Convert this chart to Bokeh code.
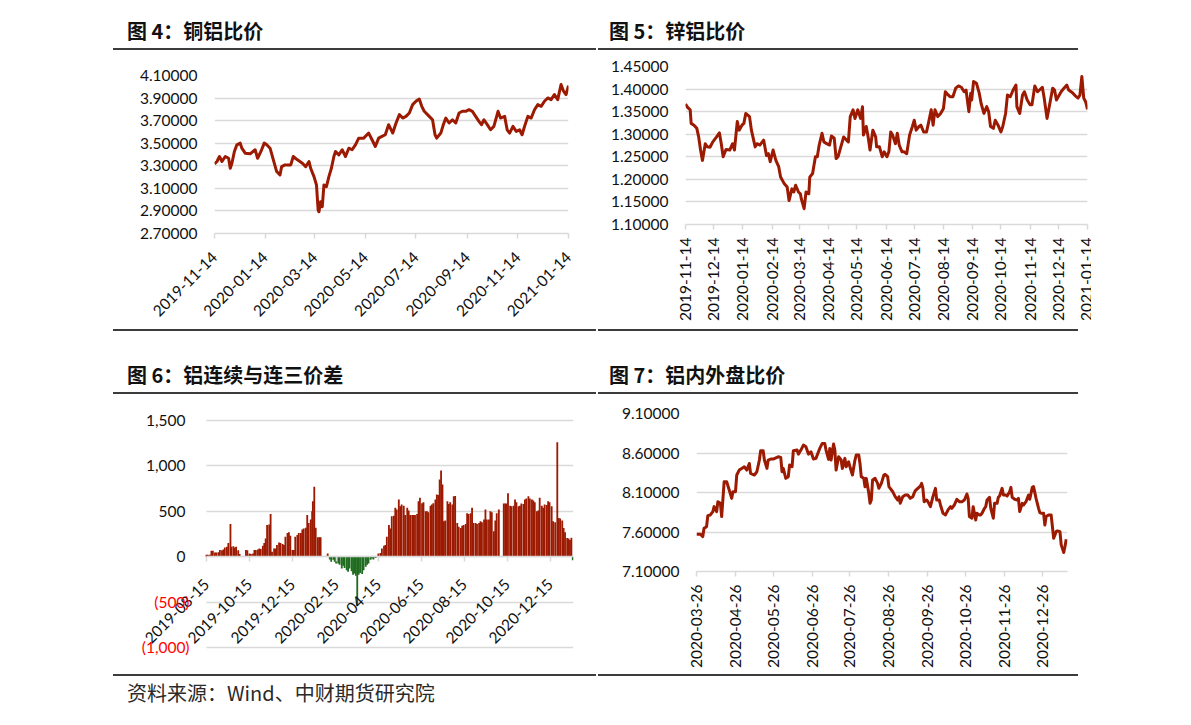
import math
import pandas as pd
from bokeh.plotting import figure
from bokeh.models import (Range1d, FixedTicker, DatetimeTickFormatter, NumeralTickFormatter,
                          LinearAxis, Div)
from bokeh.layouts import column, row
from bokeh.embed import file_html
from bokeh.resources import INLINE

# ---------------- data ----------------
# 图4 铜铝比价 (days since 2019-11-14)
cu_al_start = "2019-11-14"
cu_al_day = [0, 3, 6, 9, 13, 17, 19, 21, 24, 27,
             31, 33, 37, 43, 49, 52, 56, 60, 63, 67,
             71, 75, 79, 81, 85, 92, 95, 100, 106, 110,
             114, 116, 120, 123, 125, 126, 128, 130, 132, 135,
             138, 141, 144, 146, 150, 154, 158, 162, 166, 170,
             174, 180, 186, 190, 194, 198, 202, 206, 210, 215,
             219, 223, 227, 231, 235, 239, 243, 247, 250, 253,
             259, 263, 266, 268, 273, 276, 279, 283, 287, 291,
             295, 299, 303, 307, 311, 315, 319, 322, 325, 329,
             333, 337, 342, 345, 350, 353, 356, 360, 364, 368,
             371, 374, 378, 382, 386, 390, 394, 398, 402, 406,
             410, 414, 418, 421, 424, 427]
cu_al_ratio = [3.317, 3.338, 3.382, 3.338, 3.382, 3.367, 3.278, 3.323, 3.427, 3.486,
               3.501, 3.456, 3.412, 3.406, 3.442, 3.367, 3.427, 3.501, 3.486, 3.456,
               3.353, 3.249, 3.219, 3.293, 3.308, 3.308, 3.382, 3.353, 3.323, 3.293,
               3.338, 3.278, 3.204, 3.130, 2.908, 2.893, 2.982, 2.937, 3.130, 3.115,
               3.204, 3.278, 3.382, 3.427, 3.397, 3.442, 3.382, 3.456, 3.442, 3.486,
               3.545, 3.545, 3.590, 3.531, 3.471, 3.545, 3.560, 3.575, 3.664, 3.590,
               3.679, 3.753, 3.723, 3.738, 3.768, 3.842, 3.872, 3.892, 3.827, 3.783,
               3.738, 3.708, 3.575, 3.545, 3.590, 3.664, 3.723, 3.679, 3.708, 3.679,
               3.768, 3.783, 3.783, 3.797, 3.783, 3.738, 3.694, 3.664, 3.708, 3.664,
               3.619, 3.649, 3.783, 3.723, 3.738, 3.619, 3.590, 3.649, 3.605, 3.619,
               3.575, 3.649, 3.738, 3.723, 3.797, 3.842, 3.827, 3.872, 3.901, 3.886,
               3.931, 3.886, 4.020, 3.961, 3.931, 4.011]
cu_xticks = ["2019-11-14", "2020-01-14", "2020-03-14", "2020-05-14", "2020-07-14",
             "2020-09-14", "2020-11-14", "2021-01-14"]
cu_yticks = [2.7, 2.9, 3.1, 3.3, 3.5, 3.7, 3.9, 4.1]

# 图5 锌铝比价 (days since 2019-11-14)
zn_al_start = "2019-11-14"
zn_al_day = [0, 2, 5, 6, 9, 12, 14, 16, 18, 21,
             23, 26, 29, 33, 36, 38, 40, 43, 47, 50,
             52, 55, 57, 60, 62, 64, 68, 70, 74, 76,
             79, 83, 86, 88, 90, 93, 96, 99, 101, 105,
             108, 110, 113, 115, 117, 120, 122, 123, 126, 128,
             131, 132, 135, 138, 140, 142, 145, 147, 150, 153,
             155, 158, 160, 162, 165, 168, 171, 173, 175, 178,
             180, 183, 186, 188, 189, 192, 194, 196, 199, 202,
             203, 206, 209, 211, 214, 216, 218, 220, 223, 225,
             227, 230, 232, 235, 238, 241, 243, 245, 248, 250,
             253, 256, 258, 261, 263, 265, 268, 271, 274, 276,
             279, 281, 284, 287, 290, 293, 296, 298, 301, 303,
             304, 306, 309, 312, 314, 317, 320, 322, 324, 327,
             329, 332, 335, 337, 340, 342, 345, 348, 351, 352,
             355, 358, 360, 363, 366, 368, 371, 374, 376, 379,
             381, 384, 387, 390, 392, 394, 397, 399, 402, 405,
             407, 411, 414, 417, 419, 421, 423, 425, 427]
zn_al_ratio = [1.367, 1.360, 1.354, 1.324, 1.320, 1.313, 1.294, 1.265, 1.242, 1.279,
               1.272, 1.271, 1.283, 1.294, 1.303, 1.279, 1.250, 1.266, 1.265, 1.279,
               1.265, 1.328, 1.309, 1.320, 1.324, 1.346, 1.339, 1.309, 1.272, 1.279,
               1.276, 1.287, 1.253, 1.257, 1.239, 1.265, 1.242, 1.228, 1.205, 1.190,
               1.183, 1.153, 1.179, 1.172, 1.187, 1.172, 1.168, 1.157, 1.135, 1.172,
               1.168, 1.205, 1.213, 1.250, 1.250, 1.276, 1.302, 1.283, 1.279, 1.276,
               1.296, 1.291, 1.246, 1.250, 1.272, 1.294, 1.287, 1.283, 1.339, 1.354,
               1.335, 1.354, 1.335, 1.361, 1.298, 1.317, 1.294, 1.265, 1.309, 1.294,
               1.272, 1.272, 1.250, 1.261, 1.250, 1.261, 1.305, 1.298, 1.279, 1.302,
               1.276, 1.261, 1.261, 1.257, 1.298, 1.317, 1.331, 1.309, 1.317, 1.320,
               1.305, 1.305, 1.324, 1.354, 1.320, 1.354, 1.339, 1.346, 1.357, 1.394,
               1.387, 1.383, 1.383, 1.402, 1.407, 1.404, 1.394, 1.398, 1.350, 1.391,
               1.376, 1.417, 1.413, 1.391, 1.368, 1.346, 1.361, 1.350, 1.317, 1.313,
               1.331, 1.320, 1.305, 1.317, 1.346, 1.387, 1.383, 1.398, 1.409, 1.361,
               1.346, 1.387, 1.394, 1.376, 1.365, 1.365, 1.407, 1.394, 1.398, 1.404,
               1.380, 1.335, 1.368, 1.402, 1.398, 1.376, 1.387, 1.394, 1.402, 1.409,
               1.398, 1.392, 1.385, 1.380, 1.387, 1.428, 1.380, 1.372, 1.355]
zn_xticks = ["2019-11-14", "2019-12-14", "2020-01-14", "2020-02-14", "2020-03-14",
             "2020-04-14", "2020-05-14", "2020-06-14", "2020-07-14", "2020-08-14",
             "2020-09-14", "2020-10-14", "2020-11-14", "2020-12-14", "2021-01-14"]
zn_yticks = [1.10, 1.15, 1.20, 1.25, 1.30, 1.35, 1.40, 1.45]

# 图6 铝连续与连三价差 (days since 2019-08-15)
spread_start = "2019-08-15"
spread_day = [0, 2, 5, 7, 9, 12, 14, 17, 19, 22,
              24, 26, 29, 31, 34, 35, 38, 40, 42, 45,
              47, 56, 58, 61, 63, 66, 68, 70, 73, 75,
              77, 80, 82, 84, 86, 89, 91, 93, 96, 98,
              100, 103, 105, 108, 110, 112, 115, 117, 119, 122,
              124, 126, 129, 131, 134, 136, 138, 141, 143, 145,
              148, 150, 151, 153, 155, 158, 160, 162, 172, 175,
              177, 180, 182, 184, 187, 189, 192, 194, 196, 199,
              201, 203, 206, 208, 210, 212, 214, 216, 218, 221,
              223, 226, 228, 230, 233, 235, 237, 240, 244, 247,
              249, 252, 254, 256, 259, 261, 263, 266, 268, 270,
              273, 275, 277, 280, 282, 285, 287, 289, 292, 294,
              296, 299, 301, 303, 306, 308, 311, 313, 315, 318,
              320, 322, 325, 327, 329, 331, 333, 335, 337, 339,
              342, 344, 346, 349, 351, 353, 356, 358, 361, 363,
              365, 368, 370, 372, 375, 377, 379, 382, 384, 387,
              389, 391, 394, 396, 398, 401, 403, 405, 408, 410,
              412, 415, 422, 424, 426, 428, 431, 433, 436, 438,
              440, 443, 445, 447, 450, 452, 454, 457, 459, 462,
              464, 466, 469, 471, 473, 476, 478, 480, 483, 485,
              487, 490, 492, 495, 498, 500, 502, 505, 507, 509,
              512, 514, 516, 518, 520]
spread_value = [20, 20, 20, 65, 65, 45, 45, 50, 75, 70,
                80, 100, 110, 150, 360, 110, 115, 100, 110, 70,
                30, 75, 70, 35, 30, 35, 75, 75, 80, 90,
                85, 120, 150, 200, 350, 355, 470, 55, 90, 90,
                130, 155, 150, 140, 130, 220, 260, 270, 230, 75,
                75, 220, 240, 260, 260, 300, 310, 320, 460, 370,
                410, 500, 610, 770, 320, 215, 215, 215, 35, -30,
                -55, -35, -55, -75, -75, -90, -130, -100, -125, -150,
                -165, -130, -160, -200, -185, -210, -540, -200, -180, -190,
                -150, -110, -90, -75, -35, -20, -30, -15, 35, 40,
                90, 120, 130, 220, 350, 310, 445, 450, 540, 520,
                630, 555, 575, 560, 460, 540, 510, 460, 460, 460,
                460, 470, 610, 650, 590, 600, 500, 500, 490, 560,
                575, 590, 630, 685, 680, 850, 950, 795, 390, 400,
                610, 580, 600, 575, 665, 670, 370, 330, 315, 340,
                350, 360, 480, 470, 480, 540, 370, 370, 360, 370,
                390, 380, 410, 520, 410, 410, 500, 490, 280, 400,
                480, 520, 585, 585, 585, 700, 560, 555, 560, 630,
                600, 555, 560, 585, 580, 630, 640, 665, 640, 630,
                620, 600, 500, 510, 650, 560, 540, 575, 570, 610,
                600, 555, 390, 380, 1260, 425, 420, 400, 315, 270,
                205, 200, 185, 210, -40]
spread_xticks = ["2019-08-15", "2019-10-15", "2019-12-15", "2020-02-15", "2020-04-15",
                 "2020-06-15", "2020-08-15", "2020-10-15", "2020-12-15"]
spread_yticks = [0, 500, 1000, 1500]
spread_neg_ticks = [-1000, -500]

# 图7 铝内外盘比价 (days since 2020-03-26)
al_start = "2020-03-26"
al_day = [0, 3, 5, 6, 8, 9, 11, 13, 14, 16,
          17, 19, 20, 22, 24, 26, 28, 29, 31, 32,
          34, 36, 38, 40, 42, 43, 46, 48, 50, 51,
          53, 54, 56, 57, 59, 61, 64, 65, 67, 68,
          69, 71, 73, 74, 76, 77, 80, 81, 83, 85,
          87, 89, 91, 93, 95, 96, 98, 100, 102, 103,
          105, 106, 107, 109, 110, 111, 113, 115, 116, 118,
          119, 121, 122, 124, 126, 127, 129, 130, 131, 133,
          134, 135, 137, 138, 139, 140, 142, 144, 145, 147,
          149, 150, 152, 153, 155, 156, 158, 160, 161, 162,
          164, 166, 168, 170, 172, 173, 174, 176, 178, 179,
          180, 181, 183, 184, 186, 187, 188, 190, 191, 193,
          194, 196, 198, 200, 202, 203, 205, 207, 209, 211,
          213, 215, 216, 217, 219, 220, 222, 223, 225, 226,
          227, 229, 230, 231, 233, 234, 236, 237, 239, 240,
          241, 243, 244, 246, 247, 249, 250, 251, 253, 255,
          256, 257, 259, 260, 262, 264, 265, 267, 268, 270,
          272, 273, 274, 276, 277, 278, 280, 282, 283, 284,
          286, 287, 289, 290, 292, 293, 294]
al_ratio = [7.572, 7.572, 7.542, 7.647, 7.668, 7.807, 7.816, 7.858, 7.921, 7.858,
            7.984, 7.963, 7.795, 8.237, 8.237, 8.132, 8.026, 8.111, 8.111, 8.321,
            8.384, 8.405, 8.426, 8.384, 8.468, 8.342, 8.321, 8.363, 8.511, 8.628,
            8.628, 8.511, 8.405, 8.511, 8.523, 8.523, 8.544, 8.553, 8.544, 8.363,
            8.405, 8.279, 8.300, 8.447, 8.426, 8.628, 8.637, 8.586, 8.637, 8.700,
            8.679, 8.586, 8.616, 8.523, 8.532, 8.574, 8.658, 8.721, 8.721, 8.637,
            8.519, 8.658, 8.511, 8.713, 8.637, 8.384, 8.553, 8.511, 8.405, 8.532,
            8.426, 8.489, 8.426, 8.321, 8.511, 8.574, 8.574, 8.468, 8.300, 8.279,
            8.174, 8.279, 8.089, 7.963, 8.005, 8.258, 8.279, 8.216, 8.153, 8.216,
            8.321, 8.329, 8.300, 8.174, 8.132, 8.111, 8.047, 8.005, 8.047, 7.963,
            8.047, 8.068, 8.068, 8.026, 8.047, 8.089, 8.123, 8.153, 8.182, 8.216,
            8.153, 7.984, 8.005, 7.984, 7.921, 7.984, 8.047, 8.153, 8.005, 8.005,
            7.942, 7.837, 7.816, 7.879, 7.921, 7.900, 7.942, 8.014, 7.984, 7.984,
            8.005, 8.081, 8.026, 7.795, 7.774, 7.921, 7.753, 7.837, 7.816, 7.816,
            7.837, 7.900, 7.921, 8.005, 8.039, 7.900, 7.774, 7.963, 7.963, 8.039,
            8.056, 8.153, 8.068, 8.068, 8.056, 8.111, 8.165, 8.039, 8.014, 8.005,
            8.026, 7.858, 7.963, 7.942, 7.984, 8.068, 8.014, 8.165, 8.174, 8.026,
            7.900, 7.845, 7.837, 7.837, 7.689, 7.795, 7.816, 7.816, 7.668, 7.521,
            7.605, 7.614, 7.605, 7.437, 7.340, 7.416, 7.508]
al_xticks = ["2020-03-26", "2020-04-26", "2020-05-26", "2020-06-26", "2020-07-26",
             "2020-08-26", "2020-09-26", "2020-10-26", "2020-11-26", "2020-12-26"]
al_yticks = [7.1, 7.6, 8.1, 8.6, 9.1]

titles = ["图 4：铜铝比价", "图 5：锌铝比价", "图 6：铝连续与连三价差", "图 7：铝内外盘比价"]
source_text = "资料来源：Wind、中财期货研究院"

# ---------------- styling ----------------
RED = "#9c1a02"
GREEN = "#1f6b1f"
GRID = "#d9d9d9"
RULE = "#3c3c3c"
TICK_FONT = "Lato"
TICK_SIZE = "15.5px"
CJK = "Noto Sans CJK SC"
DAY_MS = 86400000
DFMT = "%Y-%m-%d"


def to_dates(start, days):
    return pd.Timestamp(start) + pd.to_timedelta(days, unit="D")


def ms(s):
    return pd.Timestamp(s).value / 1e6


def panel(width, height, bl, br, bt, bb, x0, x1, y0, y1, xticks, yticks, yfmt,
          orient, xstand):
    p = figure(width=width, height=height, x_axis_type="datetime",
               x_range=Range1d(pd.Timestamp(x0).to_pydatetime(), pd.Timestamp(x1).to_pydatetime()),
               y_range=Range1d(y0, y1),
               min_border_left=bl, min_border_right=br, min_border_top=bt, min_border_bottom=bb,
               output_backend="svg", toolbar_location=None)
    p.outline_line_color = None
    p.background_fill_color = "white"
    p.border_fill_color = "white"
    p.xgrid.visible = False
    p.ygrid.grid_line_color = GRID
    p.ygrid.grid_line_width = 1.5
    ya = p.yaxis[0]
    ya.ticker = FixedTicker(ticks=yticks)
    ya.formatter = NumeralTickFormatter(format=yfmt)
    ya.axis_line_color = None
    ya.major_tick_line_color = None
    ya.major_tick_out = 0
    ya.major_tick_in = 0
    ya.minor_tick_line_color = None
    ya.major_label_text_font = TICK_FONT
    ya.major_label_text_font_size = TICK_SIZE
    ya.major_label_text_color = "#111111"
    ya.major_label_standoff = 17
    xa = p.xaxis[0]
    xa.ticker = FixedTicker(ticks=[ms(t) for t in xticks])
    xa.formatter = DatetimeTickFormatter(microseconds=DFMT, milliseconds=DFMT, seconds=DFMT,
                                         minsec=DFMT, minutes=DFMT, hourmin=DFMT, hours=DFMT,
                                         days=DFMT, months=DFMT, years=DFMT)
    xa.axis_line_color = GRID
    xa.axis_line_width = 1.5
    xa.major_tick_line_color = GRID
    xa.major_tick_line_width = 1.5
    xa.major_tick_out = 5
    xa.major_tick_in = 0
    xa.minor_tick_line_color = None
    xa.major_label_orientation = orient
    xa.major_label_text_font = TICK_FONT
    xa.major_label_text_font_size = TICK_SIZE
    xa.major_label_text_color = "#111111"
    xa.major_label_standoff = xstand
    return p


# ---- html bands (titles, rules, source) ----
def rule_html(x0, x1, yc):
    return ('<div style="position:absolute;left:%dpx;top:%.2fpx;width:%dpx;height:1.5px;'
            'background:%s;"></div>' % (x0, yc - 0.75, x1 - x0, RULE))


def text_html(x, yc, txt, size, bold, color="#111111"):
    return ('<div style="position:absolute;left:%dpx;top:%.1fpx;font-family:\'%s\';'
            'font-size:%dpx;line-height:%dpx;font-weight:%s;color:%s;white-space:nowrap;">%s</div>'
            % (x, yc - size / 2, CJK, size, size, "bold" if bold else "normal", color, txt))


def band(width, height, parts):
    html = ('<div style="position:relative;width:%dpx;height:%dpx;margin:0;padding:0;">' % (width, height)
            + "".join(parts) + '</div>')
    return Div(text=html, width=width, height=height, margin=0)


band1 = band(1191, 52, [text_html(127, 31, titles[0], 20, True),
                        text_html(609, 31, titles[1], 20, True),
                        rule_html(113, 596, 49), rule_html(598, 1078, 49)])
band2 = band(1191, 70, [rule_html(113, 596, 2), rule_html(598, 1078, 2),
                        text_html(127, 47, titles[2], 20, True),
                        text_html(609, 47, titles[3], 20, True),
                        rule_html(113, 596, 65), rule_html(598, 1078, 65)])
band3 = band(1191, 50, [rule_html(113, 596, 5), rule_html(598, 1078, 5),
                        text_html(127, 23, source_text, 20, False, "#2a2a2a")])

# ---- 图4 ----
p4 = panel(589, 276, 214, 21, 23, 95, "2019-11-14", "2021-01-14", 2.7, 4.1,
           cu_xticks, cu_yticks, "0.00000", math.pi / 4, 16)
p4.line(to_dates(cu_al_start, cu_al_day), cu_al_ratio, line_color=RED, line_width=3,
        line_join="round")

# ---- 图5 ----
p5 = panel(502, 276, 96, 4, 14, 104, "2019-11-14", "2021-01-14", 1.10, 1.45,
           zn_xticks, zn_yticks, "0.00000", math.pi / 2, 8)
p5.line(to_dates(zn_al_start, zn_al_day), zn_al_ratio, line_color=RED, line_width=3,
        line_join="round")

# ---- 图6 ----
start6 = pd.Timestamp(spread_start) - pd.Timedelta(days=115)
end6 = pd.Timestamp(spread_start) + pd.Timedelta(days=521)
p6 = panel(589, 272, 125, 16, 13, 14, start6, end6, -1100, 1600,
           spread_xticks, spread_yticks, "0,0", math.pi / 4, 20)
x_lo, x_hi = ms(spread_start), end6.value / 1e6
g6 = p6.ygrid[0]
g6.ticker = FixedTicker(ticks=spread_neg_ticks + spread_yticks)
if "cross_bounds" in g6.properties():
    g6.cross_bounds = (x_lo, x_hi)
else:
    g6.visible = False
    gy = spread_neg_ticks + spread_yticks
    p6.segment(x0=[x_lo] * len(gy), x1=[x_hi] * len(gy), y0=gy, y1=gy,
               line_color=GRID, line_width=1.5)
ya6 = p6.yaxis[0]
ya6.fixed_location = x_lo
ya6.major_label_standoff = 21
neg_axis = LinearAxis(ticker=FixedTicker(ticks=spread_neg_ticks),
                      formatter=NumeralTickFormatter(format="(0,0)"),
                      axis_line_color=None, major_tick_line_color=None, minor_tick_line_color=None,
                      major_tick_out=0, major_tick_in=0,
                      major_label_text_font=TICK_FONT, major_label_text_font_size=TICK_SIZE,
                      major_label_text_color="#ff0000", major_label_standoff=17,
                      fixed_location=x_lo)
p6.add_layout(neg_axis, "left")
xa6 = p6.xaxis[0]
xa6.fixed_location = 0
xa6.bounds = (x_lo, x_hi)
sd = to_dates(spread_start, spread_day)
pos_x = [d for d, v in zip(sd, spread_value) if v >= 0]
pos_v = [v for v in spread_value if v >= 0]
neg_x = [d for d, v in zip(sd, spread_value) if v < 0]
neg_v = [v for v in spread_value if v < 0]
p6.vbar(x=pos_x, top=pos_v, bottom=0, width=2.6 * DAY_MS, fill_color=RED, line_color=None)
p6.vbar(x=neg_x, top=neg_v, bottom=0, width=2.6 * DAY_MS, fill_color=GREEN, line_color=None)

# ---- 图7 ----
end7 = pd.Timestamp(al_start) + pd.Timedelta(days=295)
p7 = panel(602, 272, 107, 124, 15, 99, al_start, end7, 7.1, 9.1,
           al_xticks, al_yticks, "0.00000", math.pi / 2, 8)
p7.line(to_dates(al_start, al_day), al_ratio, line_color=RED, line_width=3, line_join="round")

layout = column(band1,
                row(column(p4), column(p5)),
                band2,
                row(column(p6), column(p7)),
                band3)

with open("out.html", "w") as f:
    f.write(file_html(layout, INLINE))
